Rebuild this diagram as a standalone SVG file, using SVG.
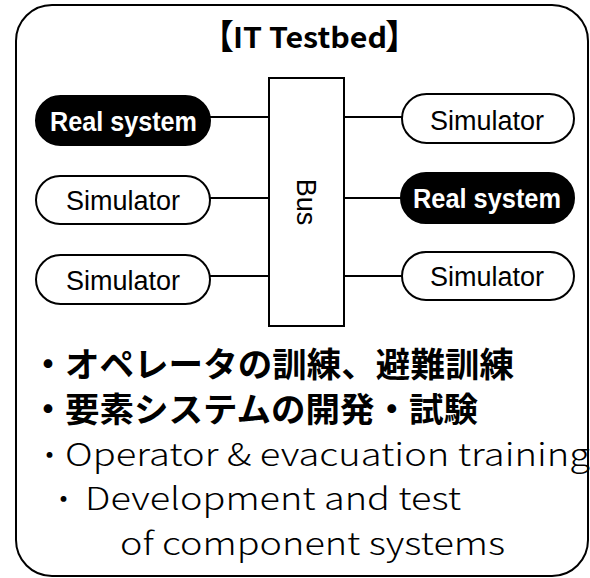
<svg xmlns="http://www.w3.org/2000/svg" width="590" height="578" viewBox="0 0 590 578">
<style>
.frame{fill:#fff;stroke:#000;stroke-width:2}
.pill{fill:#fff;stroke:#000;stroke-width:2}
.pill-dark{fill:#000;stroke:#000;stroke-width:2}
.bus{fill:#fff;stroke:#000;stroke-width:2}
.conn{stroke:#000;stroke-width:2;fill:none}
.lbl{font-family:"Liberation Sans","Noto Sans CJK JP",sans-serif;font-size:27px;text-anchor:middle;fill:#000}
.lbl-w{font-family:"Liberation Sans","Noto Sans CJK JP",sans-serif;font-size:27px;font-weight:bold;text-anchor:middle;fill:#fff}
.title{font-family:"Noto Sans CJK JP","Liberation Sans",sans-serif;font-weight:bold;fill:#000}
.jp{font-family:"Noto Sans CJK JP",sans-serif;font-size:34px;font-weight:bold;fill:#000}
.en{font-family:"Noto Sans CJK JP","Liberation Sans",sans-serif;font-size:31px;font-weight:300;fill:#000}
</style>
<rect class="frame" x="16" y="5" width="572" height="571" rx="36" ry="36"/>
<g id="title">
<text class="title" y="48"><tspan x="200" y="49" font-size="34">【</tspan><tspan x="233" y="48" font-size="28" textLength="154" lengthAdjust="spacingAndGlyphs">IT Testbed</tspan><tspan x="385" y="49" font-size="34">】</tspan></text>
</g>
<g id="connectors">
<line class="conn" x1="210" y1="117" x2="269" y2="117"/>
<line class="conn" x1="210" y1="198" x2="269" y2="198"/>
<line class="conn" x1="210" y1="276" x2="269" y2="276"/>
<line class="conn" x1="344" y1="117" x2="402" y2="117"/>
<line class="conn" x1="344" y1="198" x2="402" y2="198"/>
<line class="conn" x1="344" y1="276" x2="402" y2="276"/>
</g>
<g id="bus">
<rect class="bus" x="269" y="78" width="75" height="248"/>
<text class="lbl" transform="translate(297,202) rotate(90)" font-size="28">Bus</text>
</g>
<g id="left-real">
<rect class="pill-dark" x="36" y="96" width="174" height="49" rx="24.5"/>
<text class="lbl-w" x="123.5" y="131" textLength="147" lengthAdjust="spacingAndGlyphs">Real system</text>
</g>
<g id="left-sim1">
<rect class="pill" x="36" y="176" width="174" height="48" rx="24"/>
<text class="lbl" x="123" y="210" textLength="114" lengthAdjust="spacingAndGlyphs">Simulator</text>
</g>
<g id="left-sim2">
<rect class="pill" x="36" y="255" width="174" height="49" rx="24.5"/>
<text class="lbl" x="123" y="290" textLength="114" lengthAdjust="spacingAndGlyphs">Simulator</text>
</g>
<g id="right-sim1">
<rect class="pill" x="402" y="94" width="172" height="49" rx="24.5"/>
<text class="lbl" x="487" y="130" textLength="114" lengthAdjust="spacingAndGlyphs">Simulator</text>
</g>
<g id="right-real">
<rect class="pill-dark" x="401" y="173" width="173" height="50" rx="25"/>
<text class="lbl-w" x="487" y="208" textLength="148" lengthAdjust="spacingAndGlyphs">Real system</text>
</g>
<g id="right-sim2">
<rect class="pill" x="402" y="252" width="172" height="48" rx="24"/>
<text class="lbl" x="487" y="286" textLength="114" lengthAdjust="spacingAndGlyphs">Simulator</text>
</g>
<g id="notes">
<text class="jp" y="377"><tspan x="31">・</tspan><tspan x="65" textLength="449" lengthAdjust="spacingAndGlyphs">オペレータの訓練、避難訓練</tspan></text>
<text class="jp" y="422"><tspan x="31">・</tspan><tspan x="65" textLength="413" lengthAdjust="spacingAndGlyphs">要素システムの開発・試験</tspan></text>
<text class="en" y="466"><tspan x="34">・</tspan><tspan x="65" textLength="525" lengthAdjust="spacingAndGlyphs">Operator &amp; evacuation training</tspan></text>
<text class="en" y="510"><tspan x="48">・</tspan><tspan x="85" textLength="376" lengthAdjust="spacingAndGlyphs">Development and test</tspan></text>
<text class="en" x="120" y="555" textLength="385" lengthAdjust="spacingAndGlyphs">of component systems</text>
</g>
</svg>
